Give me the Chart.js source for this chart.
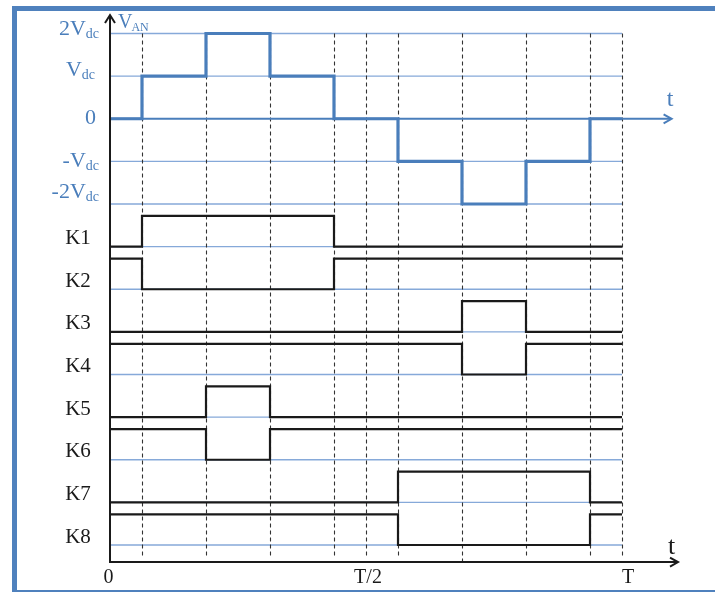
<!DOCTYPE html>
<html>
<head>
<meta charset="utf-8">
<script src="https://cdn.jsdelivr.net/npm/chart.js@4.4.1/dist/chart.umd.min.js"></script>
<style>
  html, body { margin: 0; padding: 0; background: #ffffff; }
  #c { display: block; }
</style>
</head>
<body>
<canvas id="c" width="715" height="592"></canvas>
<script>
// Switching instants over one period, in units of T/16
const edges = [0, 1, 3, 5, 7, 9, 11, 13, 15, 16];

// Phase voltage V_AN on each interval between edges, in multiples of Vdc
const vAN = [0, 1, 2, 1, 0, -1, -2, -1, 0];

// Gate states (1 = on) of the eight switches on each interval
const switchNames = ['K1', 'K2', 'K3', 'K4', 'K5', 'K6', 'K7', 'K8'];
const K1 = [0, 1, 1, 1, 0, 0, 0, 0, 0];
const K2 = [1, 0, 0, 0, 1, 1, 1, 1, 1];
const K3 = [0, 0, 0, 0, 0, 0, 1, 0, 0];
const K4 = [1, 1, 1, 1, 1, 1, 0, 1, 1];
const K5 = [0, 0, 1, 0, 0, 0, 0, 0, 0];
const K6 = [1, 1, 0, 1, 1, 1, 1, 1, 1];
const K7 = [0, 0, 0, 0, 0, 1, 1, 1, 0];
const K8 = [1, 1, 1, 1, 1, 0, 0, 0, 1];
const switchStates = [K1, K2, K3, K4, K5, K6, K7, K8];

// Dashed time markers (T/16 units) and axis tick labels
const guideTimes = [1, 3, 5, 7, 8, 9, 11, 13, 15, 16];
const levelTicks = [2, 1, 0, -1, -2];
const levelText = ['2V', 'V', '0', '-V', '-2V'];
const levelSub = ['dc', 'dc', '', 'dc', 'dc'];
const timeTicks = [0, 8, 16];
const timeText = ['0', 'T/2', 'T'];

// ---- styling ----
const BLUE = '#4A7EBB';
const BLUE_THIN = '#86A9D9';
const FRAME = '#4F81BD';
const INK = '#1a1a1a';
const SERIF = '"Liberation Serif", "Times New Roman", serif';
const ROW_HIGH = 0.72;          // height of an "on" pulse, in level units
const rowBase = i => -3 - i;    // vertical slot of switch row i

function stepPoints(levels, mapY) {
  return edges.map((t, i) => ({ x: t, y: mapY(levels[Math.min(i, levels.length - 1)]) }));
}

const datasets = [
  {
    label: 'V_AN',
    data: stepPoints(vAN, v => v),
    borderColor: BLUE,
    borderWidth: 3.2,
    stepped: 'before',
    pointRadius: 0,
    borderJoinStyle: 'miter',
    clip: false,
    order: 0
  }
];
switchStates.forEach((s, i) => {
  datasets.push({
    label: switchNames[i],
    data: stepPoints(s, v => rowBase(i) + v * ROW_HIGH),
    borderColor: INK,
    borderWidth: 2.2,
    stepped: 'before',
    pointRadius: 0,
    borderJoinStyle: 'miter',
    clip: false,
    order: 1
  });
});

function textWithSub(ctx, main, sub, xRight, base, mainSize, subSize, drop, color) {
  ctx.fillStyle = color;
  ctx.textBaseline = 'alphabetic';
  ctx.textAlign = 'left';
  ctx.font = mainSize + 'px ' + SERIF;
  const wm = ctx.measureText(main).width;
  ctx.font = subSize + 'px ' + SERIF;
  const ws = sub ? ctx.measureText(sub).width : 0;
  const x0 = xRight - wm - ws;
  ctx.font = mainSize + 'px ' + SERIF;
  ctx.fillText(main, x0, base);
  if (sub) {
    ctx.font = subSize + 'px ' + SERIF;
    ctx.fillText(sub, x0 + wm, base + drop);
  }
}

function arrowHead(ctx, tipX, tipY, dir, len, half) {
  ctx.beginPath();
  if (dir === 'right') {
    ctx.moveTo(tipX - len, tipY - half);
    ctx.lineTo(tipX, tipY);
    ctx.lineTo(tipX - len, tipY + half);
  } else {
    ctx.moveTo(tipX - half, tipY + len);
    ctx.lineTo(tipX, tipY);
    ctx.lineTo(tipX + half, tipY + len);
  }
  ctx.stroke();
}

const diagram = {
  id: 'diagram',
  beforeDraw(chart) {
    const { ctx } = chart;
    ctx.save();
    ctx.fillStyle = '#ffffff';
    ctx.fillRect(0, 0, chart.width, chart.height);
    ctx.strokeStyle = FRAME;
    ctx.lineWidth = 5;
    ctx.strokeRect(14.5, 8.5, 720, 584);
    ctx.restore();
  },
  beforeDatasetsDraw(chart) {
    const { ctx, scales: { x, y } } = chart;
    const x0 = x.getPixelForValue(0), x1 = x.getPixelForValue(16);
    ctx.save();
    // thin level lines for V_AN and the switch rows
    ctx.strokeStyle = BLUE_THIN;
    ctx.lineWidth = 1.4;
    const rows = levelTicks.filter(v => v !== 0).concat(switchNames.map((_, i) => rowBase(i)));
    rows.forEach(v => {
      const py = y.getPixelForValue(v);
      ctx.beginPath(); ctx.moveTo(x0, py); ctx.lineTo(x1, py); ctx.stroke();
    });
    // dashed time markers
    ctx.strokeStyle = '#333333';
    ctx.lineWidth = 1.1;
    ctx.setLineDash([4, 3]);
    const top = y.getPixelForValue(2);
    guideTimes.forEach(t => {
      const px = Math.round(x.getPixelForValue(t)) + 0.5;
      const bottom = y.getPixelForValue(t === 11 ? -10.4 : -10.28);
      ctx.beginPath(); ctx.moveTo(px, top); ctx.lineTo(px, bottom); ctx.stroke();
    });
    ctx.setLineDash([]);
    // zero line of V_AN, extended into the time arrow
    const pz = y.getPixelForValue(0);
    const tipTop = x.getPixelForValue(17.55);
    ctx.strokeStyle = BLUE;
    ctx.lineWidth = 2;
    ctx.beginPath(); ctx.moveTo(x0, pz); ctx.lineTo(tipTop - 1, pz); ctx.stroke();
    arrowHead(ctx, tipTop, pz, 'right', 8, 4.5);
    ctx.restore();
  },
  afterDatasetsDraw(chart) {
    const { ctx, scales: { x, y } } = chart;
    const x0 = x.getPixelForValue(0);
    const yAxis = y.getPixelForValue(-10.4);
    ctx.save();
    ctx.strokeStyle = INK;
    ctx.lineWidth = 2;
    ctx.lineCap = 'butt';
    // vertical axis with arrow
    const yTip = y.getPixelForValue(2.434);
    ctx.beginPath(); ctx.moveTo(x0, yAxis + 1); ctx.lineTo(x0, yTip + 1); ctx.stroke();
    arrowHead(ctx, x0, yTip, 'up', 8, 5);
    // horizontal time axis with arrow
    const tipBot = x.getPixelForValue(17.75);
    ctx.beginPath(); ctx.moveTo(x0 - 1, yAxis); ctx.lineTo(tipBot - 1, yAxis); ctx.stroke();
    arrowHead(ctx, tipBot, yAxis, 'right', 8, 4.5);

    // level labels on the left
    const rightEdge = [99, 95, 96, 99, 99];
    const nudge = [1.5, 0, 5, 5.5, -6];
    levelTicks.forEach((v, i) => {
      textWithSub(ctx, levelText[i], levelSub[i], rightEdge[i],
        y.getPixelForValue(v) + nudge[i], 22, 14, 3, BLUE);
    });
    // V_AN label
    ctx.fillStyle = BLUE;
    ctx.textAlign = 'left';
    ctx.textBaseline = 'alphabetic';
    ctx.font = '20px ' + SERIF;
    ctx.fillText('V', x0 + 8, y.getPixelForValue(2.14));
    const wv = ctx.measureText('V').width;
    ctx.font = '12px ' + SERIF;
    ctx.fillText('AN', x0 + 8 + wv - 1, y.getPixelForValue(2.07));
    // t on the V_AN axis
    ctx.font = '24px ' + SERIF;
    ctx.textAlign = 'center';
    ctx.fillText('t', x.getPixelForValue(17.5), y.getPixelForValue(0.3));

    // switch names
    ctx.fillStyle = INK;
    ctx.font = '21px ' + SERIF;
    ctx.textAlign = 'center';
    switchNames.forEach((n, i) => {
      ctx.fillText(n, 78, y.getPixelForValue(rowBase(i)) - 2.5);
    });
    // time ticks and t on the bottom axis
    ctx.font = '20px ' + SERIF;
    const shift = [-1.5, 2, 6];
    timeTicks.forEach((t, i) => {
      ctx.fillText(timeText[i], x.getPixelForValue(t) + shift[i], 583);
    });
    ctx.font = '26px ' + SERIF;
    ctx.fillText('t', x.getPixelForValue(17.55), y.getPixelForValue(-10.2));
    ctx.restore();
  }
};

new Chart(document.getElementById('c'), {
  type: 'line',
  data: { datasets },
  options: {
    responsive: false,
    animation: false,
    devicePixelRatio: 1,
    layout: { padding: { left: 110, right: 93, top: 12.2, bottom: 29.95 } },
    plugins: { legend: { display: false }, tooltip: { enabled: false }, title: { display: false } },
    scales: {
      x: { type: 'linear', min: 0, max: 16, display: false },
      y: { type: 'linear', min: -10.4, max: 2.5, display: false }
    }
  },
  plugins: [diagram]
});
</script>
</body>
</html>
